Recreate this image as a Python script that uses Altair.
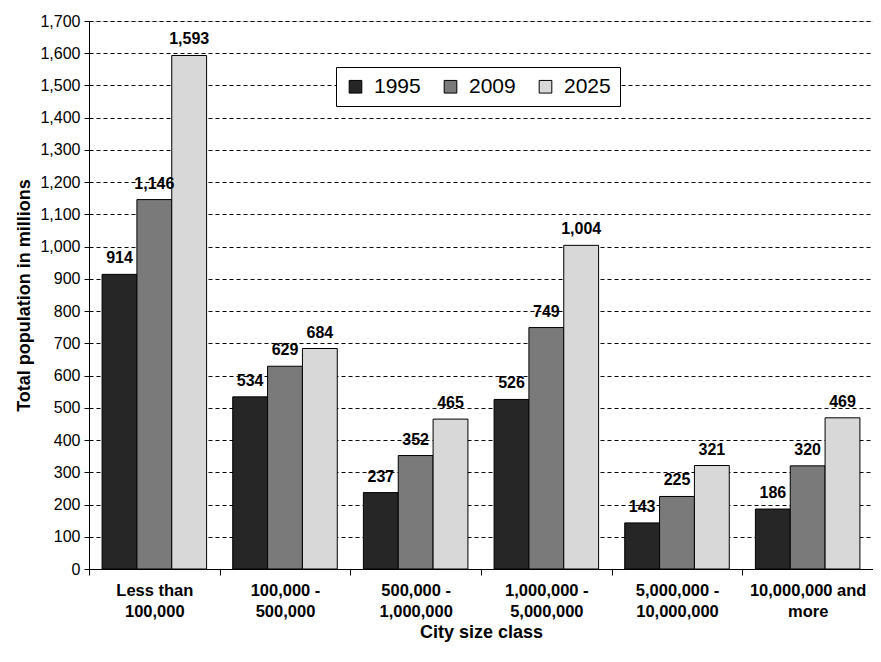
import altair as alt
import pandas as pd

categories = ["Less than\n100,000", "100,000 -\n500,000", "500,000 -\n1,000,000",
              "1,000,000 -\n5,000,000", "5,000,000 -\n10,000,000", "10,000,000 and\nmore"]
years = ["1995", "2009", "2025"]
v1995 = [914, 534, 237, 526, 143, 186]
v2009 = [1146, 629, 352, 749, 225, 320]
v2025 = [1593, 684, 465, 1004, 321, 469]
fills = ["#262626", "#7a7a7a", "#d8d8d8"]
y_ticks = list(range(0, 1701, 100))

rows = []
for y, vals in zip(years, [v1995, v2009, v2025]):
    for c, v in zip(categories, vals):
        rows.append({"cat": c, "year": y, "value": v})
df = pd.DataFrame(rows)

FONT = "Liberation Sans"

base = alt.Chart(df).encode(
    x=alt.X("cat:N", sort=categories,
            scale=alt.Scale(paddingInner=0, paddingOuter=0),
            axis=alt.Axis(title="City size class", labelExpr="split(datum.label, '\\n')",
                          labelAngle=0, labelFontWeight="bold", labelFontSize=16.5,
                          labelColor="black", titleFontSize=18, titleFontWeight="bold",
                          titleColor="black", tickBand="extent", tickColor="black",
                          domainColor="black", tickSize=6, labelPadding=7,
                          labelLineHeight=21, titlePadding=4, grid=False, labelFont=FONT,
                          titleFont=FONT)),
    xOffset=alt.XOffset("year:N", sort=years,
                        scale=alt.Scale(paddingInner=0, paddingOuter=0.375)),
    y=alt.Y("value:Q", scale=alt.Scale(domain=[0, 1700], nice=False),
            axis=alt.Axis(title="Total population in millions", values=y_ticks,
                          format=",d", labelFontSize=16, labelColor="black",
                          titleFontSize=18, titleFontWeight="bold", titleColor="black",
                          gridColor="black", gridDash=[4, 3], gridOpacity=1,
                          tickColor="black", domainColor="black", tickSize=5,
                          labelOverlap=False,
                          labelPadding=4, titlePadding=6, labelFont=FONT, titleFont=FONT)),
)

bars = base.mark_bar(stroke="black", strokeWidth=1).encode(
    color=alt.Color("year:N", sort=years,
                    scale=alt.Scale(domain=years, range=fills),
                    legend=alt.Legend(title=None, orient="none", direction="horizontal",
                                      legendX=247, legendY=46, labelFontSize=21,
                                      labelFont=FONT, labelColor="black",
                                      symbolType="square", symbolSize=160,
                                      symbolStrokeColor="black", symbolStrokeWidth=1,
                                      fillColor="white", strokeColor="black",
                                      padding=9, columnPadding=19, labelOffset=8)),
)

labels = base.mark_text(baseline="bottom", dy=-8, fontWeight="bold", fontSize=16,
                        font=FONT, color="black").encode(
    text=alt.Text("value:Q", format=","),
)

chart = (bars + labels).properties(
    width=784, height=548,
    autosize=alt.AutoSizeParams(type="none"),
    padding={"left": 81, "top": 13, "right": 0, "bottom": 80},
).configure_view(stroke="black", strokeWidth=1).configure(font=FONT)

chart.save("out.html", embed_options={"renderer": "svg", "actions": False})
